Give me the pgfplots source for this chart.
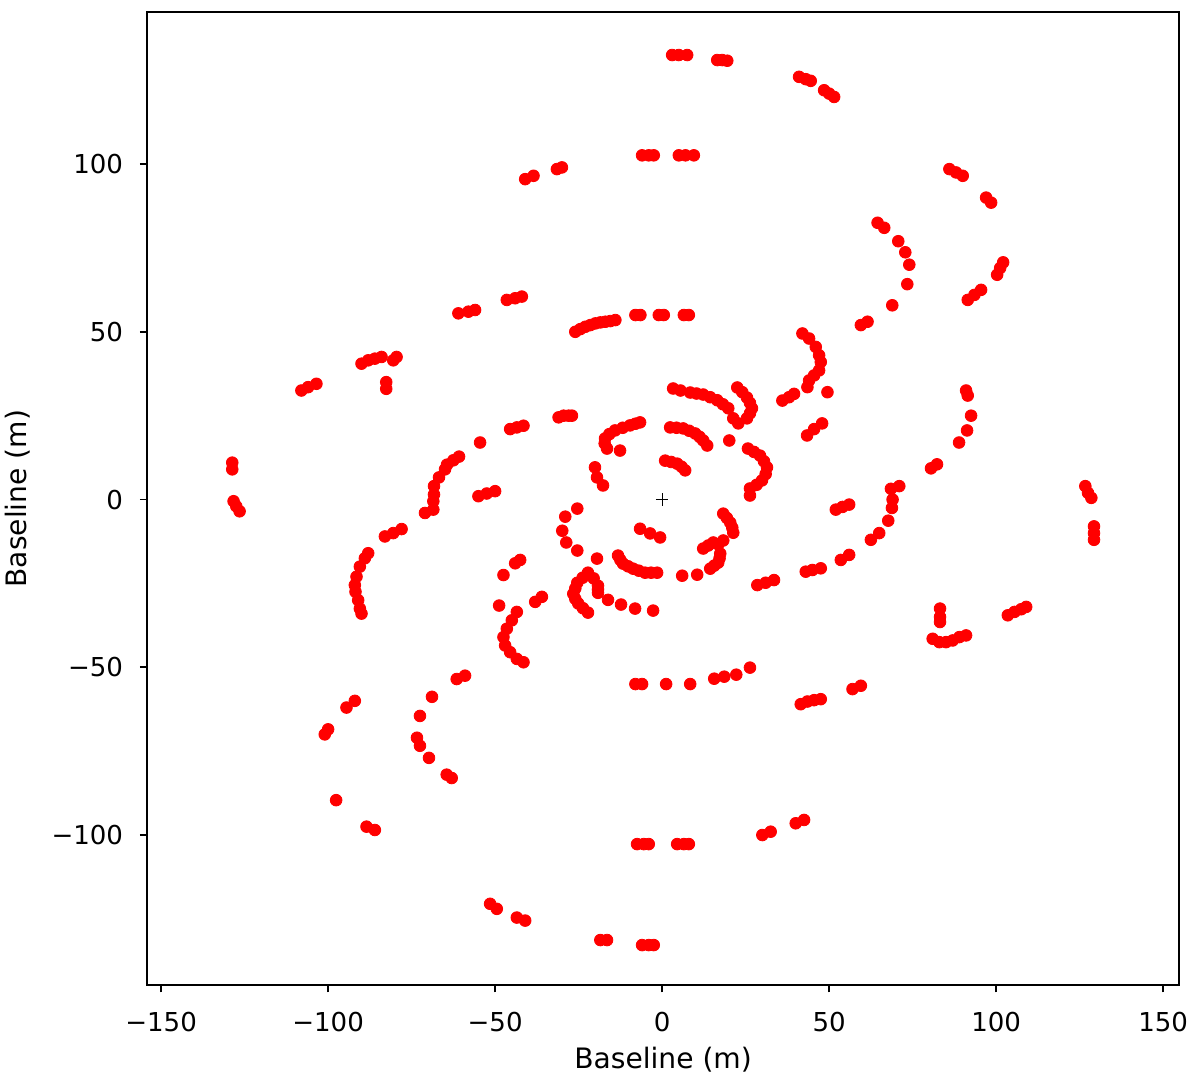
\documentclass[border=0pt]{standalone}
\usepackage{fontspec}
\setmainfont{DejaVu Sans}
\usepackage{pgfplots}
\pgfplotsset{compat=1.18}
\begin{document}
\begin{tikzpicture}
\begin{axis}[
  scale only axis,
  width=495.4pt, height=467pt,
  xmin=-154.2, xmax=154.8,
  ymin=-144.7, ymax=145.3,
  xtick={-150,-100,-50,0,50,100,150},
  xticklabels={−150,−100,−50,0,50,100,150},
  ytick={-100,-50,0,50,100},
  yticklabels={−100,−50,0,50,100},
  tick align=outside,
  major tick length=3.5pt,
  xtick pos=bottom, ytick pos=left,
  axis line style={line width=0.8pt},
  every tick/.style={black,line width=0.8pt},
  tick label style={font=\fontsize{12.5}{15}\selectfont},
  xticklabel style={yshift=-6pt},
  yticklabel style={xshift=-4.5pt},
  label style={font=\fontsize{13.5}{16}\selectfont},
  xlabel={Baseline (m)},
  ylabel={Baseline (m)},
  xlabel style={at={(axis description cs:0.5,0)}, anchor=center, yshift=-36pt},
  ylabel style={at={(axis description cs:0,0.5)}, anchor=center, yshift=62pt},
]
% uv points (both halves)
\addplot[only marks, mark=*, mark size=2.8pt, color=red, draw=none] coordinates {
(3,132.5) (5,132.5) (7.5,132.5)
(16.5,131) (18,131) (19.5,130.8)
(41,126) (43,125.3) (44.5,124.8)
(48.5,122) (50,121) (51.5,120)
(86,98.5) (88,97.5) (90,96.5)
(97,90) (98.5,88.5)
(-6,102.6) (-4,102.6) (-2.5,102.6)
(5,102.6) (7,102.6) (9.5,102.6)
(-41,95.5) (-38.5,96.5)
(-31.5,98.5) (-30,99)
(-61,55.5) (-58,56) (-56,56.5)
(-46.5,59.5) (-44,60) (-42,60.5)
(-26,50) (-24.5,50.8) (-23,51.5) (-21.5,52) (-20,52.5) (-18.5,52.8) (-17,53) (-15.5,53.2) (-14,53.5)
(-8,55) (-6.5,55) (-1,55) (0.5,55) (6.5,55) (8,55)
(64.5,82.5) (66.5,81) (70.7,77) (72.8,73.7) (74,70) (73.4,64.2) (68.9,57.9) (59.5,52) (61.5,53)
(100.3,67) (101.2,69) (102.1,70.7)
(91.5,59.5) (93.5,61) (95.5,62.5)
(42,49.5) (44,48) (46,45.5) (47,43) (47.5,41) (47,38.5) (45.5,37) (44,35.5) (43.5,33.5) (49.5,32)
(36,29.5) (38,30.5) (39.5,31.5)
(43.4,19.1) (45.5,21) (47.9,22.7)
(-90,40.5) (-88,41.5) (-86,42) (-84,42.5) (-80.5,41.5) (-79.5,42.5)
(-82.6,35) (-82.6,33)
(-108,32.5) (-106,33.5) (-103.5,34.5)
(-128.7,11) (-128.7,9)
(-128.3,-0.5) (-127.5,-2) (-126.5,-3.5)
(-54.5,17)
(-64.4,10.4) (-62.5,11.7) (-60.8,12.8) (-65,9) (-66.8,6.6)
(-68.3,4) (-68.3,1.5) (-68.5,-0.5)
(-71,-4) (-68.5,-3)
(-55,1) (-52.5,1.8) (-50,2.5)
(-83,-11) (-80.5,-10) (-78,-8.8)
(-88,-16) (-89,-17.5) (-90.5,-20) (-91.5,-23) (-92,-25.5) (-91.8,-27.5) (-91,-30) (-90.5,-32.5) (-90,-34)
(-45.5,21) (-43.5,21.5) (-41.5,22)
(-31,24.5) (-29.5,25) (-28,25) (-27,25)
(3.3,33.1) (5.5,32.5) (8.4,31.9) (10.3,31.6) (12.3,31.3) (14.4,30.5) (16.5,29.6) (18.2,28.4) (19.8,27.2) (21.3,24.2)
(22.5,33.4) (24,32) (25.4,30.4) (26.3,28.8) (26.9,27.2) (26.3,25.7) (25.4,24.2) (22.8,22.7)
(20.1,17.6)
(25.7,15.2) (27.5,14.2) (29.3,13.1) (30.5,11.4) (31.4,9.6) (31,7.6) (29.9,5.7) (28.3,4.4) (26.3,3.3) (26.3,1.2)
(2.4,21.5) (4.3,21.4) (6.3,21.2) (8.1,20.5) (9.9,19.7) (11.2,18.7) (12.3,17.6) (13.5,16.1)
(0.9,11.6) (2.7,11.2) (4.5,10.7) (5.8,9.8) (6.9,8.7)
(-6.6,23) (-8,22.6) (-9.6,22.1) (-11.8,21.4) (-14.1,20.6) (-15.8,19.5) (-17.1,18.2) (-17.2,16.7) (-16.5,15.2) (-12.6,14.6)
(-20.1,9.6) (-19.5,6.6) (-17.7,4.2)
(-25.4,-2.7) (-29,-5.1) (-29.9,-9.3) (-28.7,-12.8) (-25.4,-15.2) (-19.5,-17.6)
(-6.6,-8.7) (-3.6,-10.1) (-0.6,-11.3)
(-13.2,-16.7) (-12.5,-18) (-11.7,-19.1) (-10.2,-19.9) (-8.7,-20.6) (-7,-21.2) (-5.1,-21.8) (-3.3,-21.8) (-1.5,-21.8)
(6,-22.7) (10.5,-22.4)
(18.3,-4.2) (19.4,-5.5) (20.4,-6.9) (21,-8.4) (21.3,-9.9) (18.3,-12.2) (16.8,-13.4) (15.3,-12.8) (13.8,-13.7) (12.3,-14.6)
(17.4,-16.1) (17.2,-17.5) (16.8,-18.8) (15.6,-19.7) (14.4,-20.6)
(-22.2,-21.8) (-23.8,-23.3) (-25.4,-24.8) (-26,-26.5) (-26.6,-28.1) (-26,-29.6) (-25.1,-31) (-23.7,-32.4) (-22.2,-33.7)
(-19.2,-25.7) (-19.2,-26.8) (-19.2,-27.8) (-20.5,-23.5)
(-16.2,-29.9) (-12.3,-31.3) (-8.1,-32.5) (-2.7,-33.1)
(43,-21.5) (45,-21) (47.5,-20.5)
(28.5,-25.5) (31,-24.8) (33.5,-24)
(-47.5,-22.5) (-44,-19) (-42.5,-18)
(-38,-30.5) (-36,-29)
(-48.8,-31.6)
(-43.5,-33.5) (-45,-36) (-46.5,-38.5) (-47.5,-41) (-47,-43.5) (-45.5,-45.5) (-43.5,-47.5) (-41.5,-48.5)
(91,32.5) (91.5,31) (92.5,25) (91.3,20.6) (88.9,17)
(80.5,9.3) (82.3,10.5)
(68.5,3.2) (71,4)
(69,0) (68.8,-2.5) (67.7,-6.3)
(62.5,-12) (65,-10)
(53.5,-18) (56,-16.5)
(52,-3) (54,-2.2) (56,-1.5)
(126.7,4) (127.5,2) (128.5,0.5)
(129.3,-8) (129.3,-10) (129.3,-12)
(83.2,-32.5) (83.2,-35) (83.2,-36.5)
(81,-41.5) (83,-42.5) (85,-42.5) (87,-42) (89,-41) (91,-40.5)
(103.5,-34.5) (105.5,-33.5) (107.5,-32.7) (109,-32)
(-61.5,-53.5) (-59,-52.5)
(-68.9,-58.8) (-72.5,-64.5) (-73.4,-71) (-72.5,-73.4) (-69.8,-77) (-64.5,-82) (-63,-83)
(-94.5,-62) (-92,-60)
(-101,-70) (-100,-68.5)
(-97.6,-89.6)
(-88.5,-97.5) (-86,-98.5)
(-51.5,-120.5) (-49.5,-122)
(-43.5,-124.6) (-41,-125.5)
(-18.5,-131.3) (-16.5,-131.3)
(-6,-132.8) (-4,-132.8) (-2.5,-132.8)
(-8,-55) (-6,-55) (1.2,-55) (8.4,-55) (15.6,-53.4) (18.6,-52.8) (22.2,-52.2) (26.3,-50.1)
(41.5,-61) (43.5,-60.2) (45.5,-59.8) (47.5,-59.5)
(-7.5,-102.7) (-5.5,-102.7) (-4,-102.7)
(4.5,-102.7) (6.5,-102.7) (8,-102.7)
(30,-100) (32.5,-99)
(40,-96.5) (42.5,-95.5)
(57,-56.5) (59.5,-55.5)
};
% phase centre
\addplot[only marks, mark=+, mark size=3pt, black, mark options={line width=0.6pt}] coordinates {(0,0)};
\end{axis}
\pgfresetboundingbox
\path[use as bounding box] (-70.6pt,-47pt) rectangle (505.4pt,472.8pt);
\end{tikzpicture}
\end{document}
